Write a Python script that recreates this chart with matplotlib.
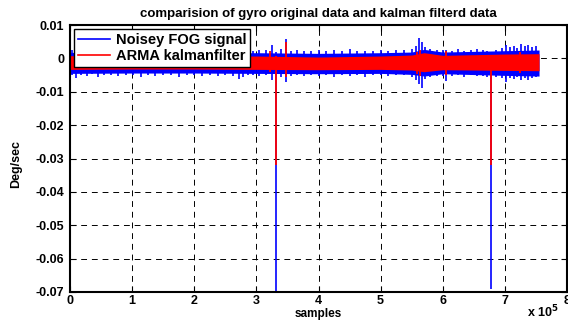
import matplotlib
matplotlib.use("Agg")
import matplotlib.pyplot as plt
from matplotlib.lines import Line2D

plt.rcParams['font.family'] = ['Liberation Sans', 'DejaVu Sans']
plt.rcParams['font.weight'] = 'bold'

# body of the noisy / filtered signal (x in samples, envelope)
band_x = [0, 1.0e5, 2.0e5, 3.0e5, 4.0e5, 5.0e5, 5.5e5, 5.7e5, 6.0e5, 7.0e5, 7.55e5]
blue_hi = [0.0018, 0.0016, 0.0016, 0.0017, 0.0015, 0.0017, 0.0019, 0.0027, 0.0019, 0.0023, 0.0025]
blue_lo = [-0.0045, -0.0044, -0.0044, -0.0045, -0.0046, -0.0045, -0.0048, -0.0053, -0.0046, -0.0051, -0.0053]
red_hi = [0.0008, 0.0006, 0.0006, 0.0007, 0.0004, 0.0007, 0.0010, 0.0017, 0.0009, 0.0013, 0.0014]
red_lo = [-0.0033, -0.0032, -0.0032, -0.0033, -0.0034, -0.0033, -0.0035, -0.0040, -0.0034, -0.0036, -0.0037]

# spikes of the noisy FOG signal: position, low, high
blue_sx = [0.03e5, 0.10e5, 0.18e5, 0.27e5, 0.36e5, 0.45e5, 0.55e5, 0.66e5, 0.78e5, 0.90e5,
           1.02e5, 1.14e5, 1.25e5, 1.37e5, 1.50e5, 1.62e5, 1.75e5, 1.88e5, 2.00e5, 2.12e5,
           2.25e5, 2.38e5, 2.50e5, 2.62e5, 2.72e5, 2.78e5, 2.86e5, 2.95e5, 3.05e5, 3.15e5,
           3.25e5, 3.32e5, 3.40e5, 3.47e5, 3.55e5, 3.65e5, 3.76e5, 3.88e5, 4.00e5, 4.12e5,
           4.25e5, 4.38e5, 4.50e5, 4.62e5, 4.75e5, 4.88e5, 5.00e5, 5.12e5, 5.25e5, 5.38e5,
           5.50e5, 5.57e5, 5.62e5, 5.66e5, 5.72e5, 5.80e5, 5.90e5, 6.00e5, 6.05e5, 6.15e5,
           6.25e5, 6.35e5, 6.45e5, 6.55e5, 6.65e5, 6.72e5, 6.78e5, 6.86e5, 6.95e5, 7.02e5,
           7.08e5, 7.14e5, 7.20e5, 7.26e5, 7.32e5, 7.38e5, 7.44e5, 7.50e5]
blue_slo = [-0.0050, -0.0058, -0.0049, -0.0053, -0.0048, -0.0055, -0.0050, -0.0049, -0.0054, -0.0050,
            -0.0049, -0.0056, -0.0050, -0.0053, -0.0049, -0.0051, -0.0055, -0.0049, -0.0050, -0.0054,
            -0.0049, -0.0052, -0.0050, -0.0053, -0.0062, -0.0055, -0.0051, -0.0050, -0.0052, -0.0051,
            -0.0066, -0.0700, -0.0055, -0.0072, -0.0052, -0.0050, -0.0054, -0.0049, -0.0052, -0.0050,
            -0.0055, -0.0049, -0.0052, -0.0050, -0.0056, -0.0051, -0.0050, -0.0054, -0.0049, -0.0051,
            -0.0056, -0.0065, -0.0078, -0.0090, -0.0062, -0.0055, -0.0052, -0.0054, -0.0068, -0.0052,
            -0.0051, -0.0056, -0.0050, -0.0052, -0.0054, -0.0056, -0.0690, -0.0057, -0.0060, -0.0070,
            -0.0058, -0.0062, -0.0055, -0.0064, -0.0060, -0.0066, -0.0058, -0.0056]
blue_shi = [0.0024, 0.0021, 0.0026, 0.0022, 0.0025, 0.0021, 0.0023, 0.0027, 0.0021, 0.0024,
            0.0021, 0.0026, 0.0022, 0.0024, 0.0021, 0.0025, 0.0023, 0.0021, 0.0026, 0.0022,
            0.0023, 0.0021, 0.0025, 0.0022, 0.0021, 0.0026, 0.0022, 0.0021, 0.0025, 0.0024,
            0.0040, 0.0020, 0.0028, 0.0057, 0.0023, 0.0026, 0.0022, 0.0021, 0.0025, 0.0021,
            0.0024, 0.0022, 0.0027, 0.0021, 0.0023, 0.0021, 0.0026, 0.0021, 0.0024, 0.0025,
            0.0028, 0.0036, 0.0062, 0.0050, 0.0034, 0.0028, 0.0025, 0.0026, 0.0026, 0.0023,
            0.0027, 0.0022, 0.0025, 0.0028, 0.0024, 0.0022, 0.0020, 0.0026, 0.0030, 0.0040,
            0.0034, 0.0037, 0.0032, 0.0042, 0.0036, 0.0040, 0.0034, 0.0038]

# spikes of the filtered signal
red_sx = [3.22e5, 3.32e5, 3.47e5, 5.58e5, 5.64e5, 6.05e5, 6.78e5, 7.25e5]
red_slo = [-0.0040, -0.0320, -0.0056, -0.0048, -0.0052, -0.0050, -0.0320, -0.0044]
red_shi = [0.0022, 0.0008, 0.0049, 0.0020, 0.0024, 0.0023, 0.0010, 0.0020]

xtick_vals = [0, 1e5, 2e5, 3e5, 4e5, 5e5, 6e5, 7e5, 8e5]
xtick_labels = ['0', '1', '2', '3', '4', '5', '6', '7', '8']
ytick_vals = [0.01, 0, -0.01, -0.02, -0.03, -0.04, -0.05, -0.06, -0.07]
ytick_labels = ['0.01', '0', '-0.01', '-0.02', '-0.03', '-0.04', '-0.05', '-0.06', '-0.07']

fig = plt.figure(figsize=(5.68, 3.22), dpi=100)
ax = fig.add_axes([70 / 568, 1 - 292 / 322, 497 / 568, 267 / 322])
ax.set_axisbelow(True)

blue = (0, 0, 1)
red = (1, 0, 0)

ax.fill_between(band_x, blue_lo, blue_hi, color=blue, lw=0, zorder=2)
ax.vlines(blue_sx, blue_slo, blue_shi, color=blue, lw=1.2, zorder=2)
ax.fill_between(band_x, red_lo, red_hi, color=red, lw=0, zorder=3)
ax.vlines(red_sx, red_slo, red_shi, color=red, lw=1.3, zorder=3)

ax.set_xlim(0, 8e5)
ax.set_ylim(-0.07, 0.01)
ax.set_xticks(xtick_vals)
ax.set_xticklabels(xtick_labels)
ax.set_yticks(ytick_vals)
ax.set_yticklabels(ytick_labels)
ax.tick_params(direction='in', top=True, right=True, labelsize=9, length=4, width=0.8, pad=4)
ax.tick_params(axis='x', pad=2)
ax.grid(True, color='black', linestyle=(0, (6, 5)), linewidth=0.7)
for s in ax.spines.values():
    s.set_linewidth(1.5)
    s.set_zorder(5)

ax.set_title('comparision of gyro original data and kalman filterd data', fontsize=9.5,
             fontweight='bold', pad=6)
fig.text(318 / 568, 1 - 314 / 322, 'samples', fontsize=8.5, fontweight='bold',
         ha='center', va='center')
fig.text(16 / 568, 1 - 164 / 322, 'Deg/sec', rotation=90, fontsize=9, fontweight='bold',
         ha='center', va='center')
fig.text(527 / 568, 1 - 320 / 322, 'x 10$^{5}$', fontsize=9, fontweight='bold', ha='left', va='bottom')

handles = [Line2D([], [], color=blue, lw=1.2), Line2D([], [], color=red, lw=1.2)]
leg = ax.legend(handles, ['Noisey FOG signal', 'ARMA kalmanfilter'], loc='upper left',
                fontsize=10.5, frameon=True, fancybox=False, borderpad=0.25,
                handlelength=2.2, handletextpad=0.4, labelspacing=0.15, borderaxespad=0.3)
leg.get_frame().set_edgecolor('black')
leg.get_frame().set_linewidth(1.0)
leg.get_frame().set_alpha(1)
leg.set_zorder(6)

plt.savefig('out.png', dpi=100)
